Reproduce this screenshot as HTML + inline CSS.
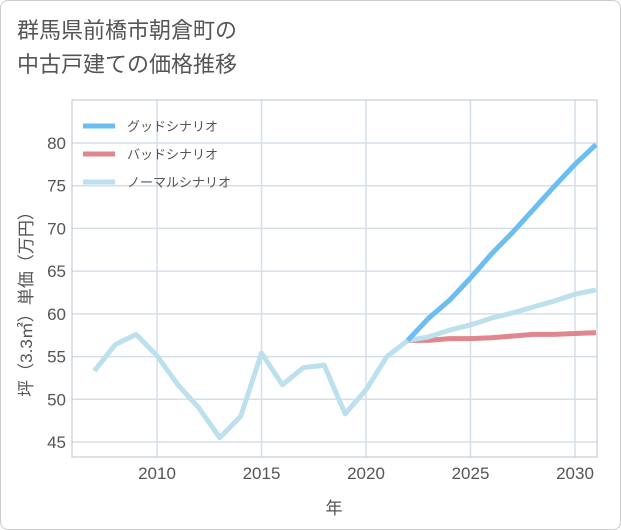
<!DOCTYPE html>
<html><head><meta charset="utf-8"><style>
body{margin:0;background:#fff;font-family:"Liberation Sans","Noto Sans CJK JP",sans-serif;}
#card{position:absolute;left:0;top:0;width:619px;height:528px;border:1px solid #ccc;border-radius:8px;background:#fff;}
#title{position:absolute;left:17px;top:14px;font-size:22px;line-height:34px;color:#555;}
</style></head><body>
<div id="card"></div>
<div id="title">群馬県前橋市朝倉町の<br>中古戸建ての価格推移</div>
<svg id="chart" width="621" height="530" style="position:absolute;left:0;top:0"></svg>
<script>
const years=[2007,2008,2009,2010,2011,2012,2013,2014,2015,2016,2017,2018,2019,2020,2021,2022];
const history=[53.3,56.4,57.6,55.1,51.7,49.0,45.5,48.0,55.4,51.7,53.7,54.0,48.3,51.1,55.0,56.9];
const futureYears=[2022,2023,2024,2025,2026,2027,2028,2029,2030,2031];
const goodValues=[56.9,59.5,61.6,64.2,67.0,69.5,72.2,74.9,77.5,79.8];
const badValues=[56.9,56.9,57.1,57.1,57.2,57.4,57.6,57.6,57.7,57.8];
const normalValues=[56.9,57.3,58.1,58.7,59.5,60.1,60.8,61.5,62.3,62.8];
const xTicks=[2010,2015,2020,2025,2030];
const yTicks=[45,50,55,60,65,70,75,80];
const seriesNames=["グッドシナリオ","バッドシナリオ","ノーマルシナリオ"];
const L=72,R=597,T=100,B=457;
const x=v=>157+(v-2010)*20.9;
const y=v=>143+(80-v)*8.543;
const svg=document.getElementById('chart');
const NS='http://www.w3.org/2000/svg';
function mk(t,a){const e=document.createElementNS(NS,t);for(const k in a)e.setAttribute(k,a[k]);svg.appendChild(e);return e;}
for(const v of yTicks){
 const g=mk('line',{x1:L,x2:R,y1:y(v),y2:y(v),stroke:'#d5dfe8','stroke-width':1.5});
 
 
 const t=mk('text',{x:L-6,y:y(v)+6,'text-anchor':'end','font-size':17,fill:'#555'});
 t.textContent=v;
 
 
}
for(const v of xTicks){
 const g=mk('line',{x1:x(v),x2:x(v),y1:T,y2:B,stroke:'#d5dfe8','stroke-width':1.5});
 
 
 const t=mk('text',{x:x(v),y:B+22,'text-anchor':'middle','font-size':17,fill:'#555'});
 t.textContent=v;
 
 
}
const frame=mk('rect',{x:L,y:T,width:R-L,height:B-T,fill:'none',stroke:'#b8c4d0','stroke-width':1});


const clip=mk('clipPath',{id:'pc'});
const cr=document.createElementNS(NS,'rect');cr.setAttribute('x',L);cr.setAttribute('y',T);cr.setAttribute('width',R-L);cr.setAttribute('height',B-T);clip.appendChild(cr);
function line(xs,vs,color,name){
 const p=mk('polyline',{points:xs.map((a,i)=>x(a)+','+y(vs[i])).join(' '),fill:'none',stroke:color,'stroke-width':5,'stroke-linejoin':'round','clip-path':'url(#pc)'});
 
 
}
line(years,history,'#bde0ee','history-line');
line(futureYears,badValues,'#e0868e','bad-scenario-line');
line(futureYears,normalValues,'#bde0ee','normal-scenario-line');
line(futureYears,goodValues,'#6cbdf0','good-scenario-line');
const colors=['#6cbdf0','#e0868e','#bde0ee'];
seriesNames.forEach((n,i)=>{
 const ly=126+i*28;
 const s=mk('line',{x1:83,x2:115,y1:ly,y2:ly,stroke:colors[i],'stroke-width':5});
 
 
 const t=mk('text',{x:127,y:ly+5,'font-size':13,fill:'#555'});
 t.textContent=n;
 
 
});
const xt=mk('text',{x:334,y:514,'text-anchor':'middle','font-size':17,fill:'#555'});
xt.textContent='年';


const yt=mk('text',{x:0,y:0,'text-anchor':'middle','font-size':17,fill:'#555',transform:'translate(32,300) rotate(-90)'});
yt.textContent='坪（3.3㎡）単価（万円）';


</script>
</body></html>
